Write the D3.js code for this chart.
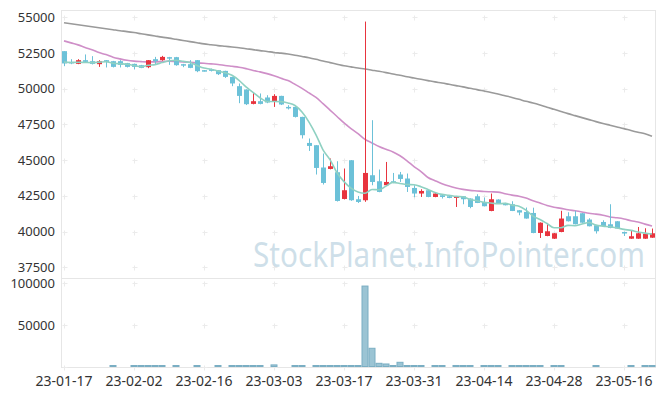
<!DOCTYPE html>
<html>
<head>
<meta charset="utf-8">
<style>
  body { margin: 0; background: #fff; }
  svg { display: block; font-family: "Noto Sans", sans-serif; }
</style>
</head>
<body>
<svg width="665" height="396"></svg>
<script src="https://d3js.org/d3.v7.min.js"></script>
<script>

var dates = [
  "23-01-17","23-01-18","23-01-19","23-01-20","23-01-25","23-01-26","23-01-27","23-01-30","23-01-31",
  "23-02-01","23-02-02","23-02-03","23-02-06","23-02-07","23-02-08","23-02-09","23-02-10","23-02-13",
  "23-02-14","23-02-15","23-02-16","23-02-17","23-02-20","23-02-21","23-02-22","23-02-23","23-02-24",
  "23-02-27","23-02-28","23-03-02","23-03-03","23-03-06","23-03-07","23-03-08","23-03-09","23-03-10",
  "23-03-13","23-03-14","23-03-15","23-03-16","23-03-17","23-03-20","23-03-21","23-03-22","23-03-23",
  "23-03-24","23-03-27","23-03-28","23-03-29","23-03-30","23-03-31","23-04-03","23-04-04","23-04-05",
  "23-04-06","23-04-07","23-04-10","23-04-11","23-04-12","23-04-13","23-04-14","23-04-17","23-04-18",
  "23-04-19","23-04-20","23-04-21","23-04-24","23-04-25","23-04-26","23-04-27","23-04-28","23-05-02",
  "23-05-03","23-05-04","23-05-08","23-05-09","23-05-10","23-05-11","23-05-12","23-05-15","23-05-16",
  "23-05-17","23-05-18","23-05-19","23-05-22"
];

var open = [
  52620,51870,51730,51990,51920,51710,51990,51920,51920,51780,
  51730,51640,51500,52060,51990,52200,52200,51710,51710,51990,
  51290,51360,51290,51240,50820,50170,49940,48930,49120,49380,
  49070,49490,48720,48720,48020,46200,46040,44480,44380,44150,
  42280,44990,42260,42190,43940,43520,43240,43520,43990,43710,
  43050,42660,42890,42420,42540,42470,42350,42470,42310,42470,
  42070,41440,42240,42000,41910,41490,41370,41300,39900,39690,
  39500,39970,41070,41070,41280,40840,40440,40670,40510,40720,
  39970,39500,39500,39500,39570
];
var high = [
  52620,52060,52060,52390,52270,51990,52000,51940,51990,51800,
  51750,51660,52000,52220,52290,52220,52220,51730,51990,52000,
  51300,51400,51300,51250,50830,50360,49950,49720,49660,49540,
  49610,49500,48840,48740,48030,46510,46050,45460,45110,44920,
  44410,45000,42490,54690,47790,44340,44870,44100,44170,44060,
  43240,42960,42900,42680,42560,42480,42490,42480,42320,42610,
  42380,42660,42260,42010,42120,41500,41680,41670,40640,40600,
  39900,41450,41350,41450,41300,40930,40450,40790,41910,40730,
  39990,40050,40320,40230,40210
];
var low = [
  51570,51710,51710,51800,51690,51520,51480,51480,51480,51480,
  51340,51430,51430,51710,51950,51660,51600,51500,51430,51150,
  51200,51200,50950,50750,50170,48980,48850,48900,48900,48980,
  48720,48850,48540,47980,46510,45640,43990,43290,44350,42100,
  42250,42150,42000,42080,43240,42750,43220,43380,43470,42770,
  42400,42420,42400,42400,42310,42330,41720,41910,41630,41990,
  41760,41420,41950,41830,41430,41140,40900,39880,39550,39670,
  39480,39950,40700,40500,40610,40360,39860,40380,40230,40200,
  39690,39490,39490,39490,39560
];
var close = [
  51760,51760,51990,51870,51730,51920,51870,51520,51660,51520,
  51520,51450,51990,51920,52220,52150,51640,51640,51450,51220,
  51240,51240,51010,50820,50360,49490,48910,49120,48930,49030,
  49490,48890,48650,48020,46740,45990,44450,43400,44570,42140,
  42890,42190,42070,44100,43470,42770,43470,43400,43680,43120,
  42660,42840,42420,42660,42420,42350,42470,42260,41720,42000,
  41770,42260,41960,41840,41440,41330,40910,39900,40620,40020,
  39880,40910,40720,40510,40620,40370,40020,40390,40250,40210,
  39860,39670,39880,39850,39880
];
var volume = [
  0,0,0,0,0,0,0,900,0,0,
  900,900,900,900,900,0,900,0,0,900,
  0,0,900,0,900,900,900,900,900,0,
  2500,0,0,900,900,0,900,900,900,900,
  900,900,900,96400,22300,4400,3600,1000,5600,1500,
  1500,1200,0,800,900,0,1800,900,900,0,
  900,1800,900,0,900,900,900,900,900,0,
  900,900,0,0,0,0,900,0,0,0,
  0,900,0,900,900
];
var ma5 = [
  51850,51830,51840,51830,51820,51850,51880,51780,51740,51700,
  51620,51530,51630,51680,51820,51950,51980,51910,51820,51620,
  51440,51360,51230,51110,50930,50580,50120,49740,49360,49100,
  49100,49090,49000,48820,48360,47660,46770,45720,45030,44110,
  43490,43040,42770,42680,42940,42920,43180,43440,43360,43290,
  43270,43140,42940,42740,42600,42540,42460,42430,42240,42160,
  42040,42000,41940,41970,41850,41770,41500,41080,40840,40560,
  40270,40270,40430,40410,40530,40630,40450,40380,40330,40250,
  40150,40080,39970,39890,39830
];
var ma20 = [
  53340,53200,53060,52880,52720,52520,52380,52200,52080,51980,
  51920,51890,51870,51870,51900,51910,51890,51870,51840,51800,
  51770,51730,51690,51620,51560,51500,51400,51270,51170,51050,
  50900,50720,50560,50300,50020,49700,49380,48950,48500,48050,
  47600,47200,46850,46450,46200,45950,45750,45570,45300,44950,
  44550,44200,43780,43560,43350,43180,43050,42950,42880,42840,
  42800,42780,42760,42650,42550,42470,42350,42150,42000,41820,
  41700,41620,41520,41450,41370,41280,41220,41140,41020,40960,
  40880,40760,40670,40520,40380
];
var ma120 = [
  54610,54540,54470,54400,54330,54260,54190,54120,54050,53990,
  53920,53840,53760,53680,53600,53530,53450,53370,53290,53210,
  53130,53070,53010,52960,52910,52860,52790,52730,52660,52600,
  52530,52480,52420,52340,52250,52160,52050,51930,51820,51710,
  51600,51520,51440,51370,51290,51210,51120,51020,50930,50830,
  50740,50650,50560,50470,50390,50300,50210,50120,50020,49930,
  49830,49730,49620,49500,49380,49250,49110,49000,48860,48700,
  48550,48400,48250,48110,47970,47830,47690,47560,47440,47320,
  47200,47070,46950,46840,46670
];

var priceTicks = [37500, 40000, 42500, 45000, 47500, 50000, 52500, 55000];
var volumeTicks = [50000, 100000];
var dateTicks = ["23-01-17","23-02-02","23-02-16","23-03-03","23-03-17","23-03-31","23-04-14","23-04-28","23-05-16"];

var svg = d3.select("svg");
var plotLeft = 61, plotRight = 655, plotTop = 10, plotMid = 278, plotBottom = 367;

var x = d3.scaleBand().domain(dates).range([plotLeft - 0.5, plotRight + 0.5]);
var y = d3.scaleLinear().domain([36750, 55500]).range([plotMid, plotTop]);
var yv = d3.scaleLinear().domain([0, 106000]).range([plotBottom, plotMid]);
var cx = function(d) { return x(d) + x.bandwidth() / 2; };

var rows = dates.map(function(d, i) {
  return {date: d, o: open[i], h: high[i], l: low[i], c: close[i], v: volume[i]};
});

var up = "#e8343e", down = "#6cc1d8";

// frame
var frame = svg.append("g").attr("stroke", "#e6e6e6").attr("fill", "none");
frame.append("rect").attr("x", plotLeft + 0.5).attr("y", plotTop + 0.5)
    .attr("width", plotRight - plotLeft).attr("height", plotBottom - plotTop);
frame.append("line").attr("x1", plotLeft).attr("x2", plotRight + 1)
    .attr("y1", plotMid + 0.5).attr("y2", plotMid + 0.5);

// grid crosses
var grid = svg.append("g").attr("stroke", "#ebebeb");
var crossY = priceTicks.map(y).concat(volumeTicks.map(yv)).concat([plotBottom]);
dateTicks.forEach(function(t) {
  crossY.forEach(function(py) {
    var px = Math.round(cx(t)) + 0.5;
    py = Math.round(py) + 0.5;
    grid.append("line").attr("x1", px - 2).attr("x2", px + 3).attr("y1", py).attr("y2", py);
    grid.append("line").attr("x1", px).attr("x2", px).attr("y1", py - 2).attr("y2", py + 3);
  });
});

// watermark
svg.append("text")
    .attr("x", 253).attr("y", 267)
    .attr("textLength", 392).attr("lengthAdjust", "spacingAndGlyphs")
    .attr("font-size", 34)
    .attr("fill", "#c6dae5")
    .attr("fill-opacity", 0.85)
    .text("StockPlanet.InfoPointer.com");

// axes
var ay = svg.append("g")
    .attr("transform", "translate(" + plotLeft + ",0)")
    .call(d3.axisLeft(y).tickValues(priceTicks).tickSize(0).tickPadding(6).tickFormat(d3.format("d")));
var av = svg.append("g")
    .attr("transform", "translate(" + plotLeft + ",0)")
    .call(d3.axisLeft(yv).tickValues(volumeTicks).tickSize(0).tickPadding(6).tickFormat(d3.format("d")));
var ax = svg.append("g")
    .attr("transform", "translate(0," + plotBottom + ")")
    .call(d3.axisBottom(x).tickValues(dateTicks).tickSize(0).tickPadding(9));
[ay, av].forEach(function(a) {
  a.select(".domain").remove();
  a.selectAll("text").attr("font-size", 13).attr("fill", "#333").attr("font-family", "Noto Sans, sans-serif");
});
ax.select(".domain").remove();
ax.selectAll("text").attr("font-size", 14).attr("fill", "#333").attr("font-family", "Noto Sans, sans-serif");

// volume bars
svg.append("g")
    .attr("fill", "#9bc4d4").attr("stroke", "#7aaec3")
  .selectAll("rect")
  .data(rows.filter(function(d) { return d.v > 0; }))
  .enter().append("rect")
    .attr("x", function(d) { return x(d.date) + 0.5; })
    .attr("width", x.bandwidth() - 1)
    .attr("y", function(d) { return Math.min(yv(d.v), plotBottom - 1.5); })
    .attr("height", function(d) { return Math.max(plotBottom - yv(d.v), 1.5) - 0.5; });

// moving averages
function maLine(values, color, width) {
  svg.append("path")
      .datum(values)
      .attr("fill", "none")
      .attr("stroke", color)
      .attr("stroke-width", width)
      .attr("d", d3.line()
          .x(function(d, i) { return cx(dates[i]); })
          .y(function(d) { return y(d); })
          .curve(d3.curveMonotoneX));
}
maLine(ma120, "#9a9a9a", 1.6);
maLine(ma20, "#cf8fc8", 1.6);

// candles
var candle = svg.append("g")
  .selectAll("g")
  .data(rows)
  .enter().append("g")
    .attr("fill", function(d) { return d.c > d.o ? up : down; })
    .attr("stroke", function(d) { return d.c > d.o ? up : down; });

candle.append("line")
    .attr("x1", function(d) { return Math.round(cx(d.date)) + 0.5; })
    .attr("x2", function(d) { return Math.round(cx(d.date)) + 0.5; })
    .attr("y1", function(d) { return y(d.h); })
    .attr("y2", function(d) { return y(d.l); });

candle.append("rect")
    .attr("stroke", "none")
    .attr("x", function(d) { return Math.round(cx(d.date)) - 2; })
    .attr("width", 5)
    .attr("y", function(d) { return y(Math.max(d.o, d.c)); })
    .attr("height", function(d) { return Math.max(1.5, Math.abs(y(d.o) - y(d.c))); });

maLine(ma5, "#8fd1c2", 1.6);

</script>
</body>
</html>
